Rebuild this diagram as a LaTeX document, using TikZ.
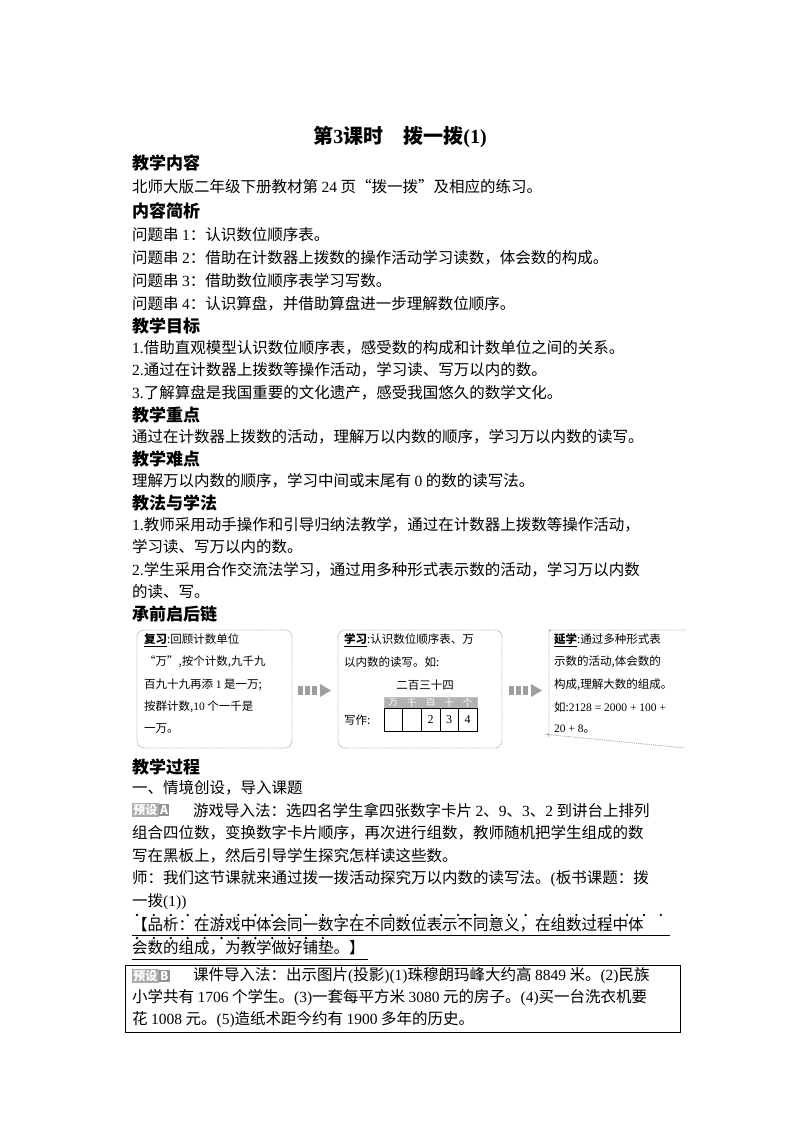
\documentclass[tikz,border=0pt]{standalone}
\usepackage{fontspec}
\setmainfont{Noto Sans CJK SC}
\newfontfamily\numf{Liberation Serif}
\begin{document}
\begin{tikzpicture}[x=1pt,y=-1pt,
 tx/.style={anchor=west,inner sep=0pt,font=\fontsize{15.5}{17}\selectfont},
 hd/.style={anchor=west,inner sep=0pt,font=\fontsize{17}{19}\selectfont\bfseries},
 bx/.style={anchor=west,inner sep=0pt,font=\fontsize{11.5}{13}\selectfont},
 chain/.style={draw=gray!70,densely dotted,line width=0.9pt,rounded corners=7pt},
 tag/.style={fill=gray!65,text=white,inner sep=1.2pt,font=\fontsize{12}{13}\selectfont\bfseries},
 tagl/.style={fill=gray!85,text=white,inner sep=1.2pt,font=\fontsize{12}{13}\selectfont\bfseries}]
\useasboundingbox (0,0) rectangle (800,1132);
\node[inner sep=0pt,font=\fontsize{20}{22}\selectfont\bfseries] (title) at (400,137) {第{\numf 3}课时\quad 拨一拨{\numf (1)}};
\node[hd] (h1) at (132,163) {教学内容};
\node[tx] (l1) at (132,187) {北师大版二年级下册教材第 {\numf 24} 页“拨一拨”及相应的练习。};
\node[hd] (h2) at (132,211) {内容简析};
\node[tx] (l2) at (132,235) {问题串 {\numf 1}：认识数位顺序表。};
\node[tx] (l3) at (132,258) {问题串 {\numf 2}：借助在计数器上拨数的操作活动学习读数，体会数的构成。};
\node[tx] (l4) at (132,281) {问题串 {\numf 3}：借助数位顺序表学习写数。};
\node[tx] (l5) at (132,304) {问题串 {\numf 4}：认识算盘，并借助算盘进一步理解数位顺序。};
\node[hd] (h3) at (132,326) {教学目标};
\node[tx] (l6) at (132,348) {{\numf 1.}借助直观模型认识数位顺序表，感受数的构成和计数单位之间的关系。};
\node[tx] (l7) at (132,370) {{\numf 2.}通过在计数器上拨数等操作活动，学习读、写万以内的数。};
\node[tx] (l8) at (132,393) {{\numf 3.}了解算盘是我国重要的文化遗产，感受我国悠久的数学文化。};
\node[hd] (h4) at (132,415) {教学重点};
\node[tx] (l9) at (132,437) {通过在计数器上拨数的活动，理解万以内数的顺序，学习万以内数的读写。};
\node[hd] (h5) at (132,459) {教学难点};
\node[tx] (l10) at (132,481) {理解万以内数的顺序，学习中间或末尾有 {\numf 0} 的数的读写法。};
\node[hd] (h6) at (132,503) {教法与学法};
\node[tx] (l11) at (132,525) {{\numf 1.}教师采用动手操作和引导归纳法教学，通过在计数器上拨数等操作活动，};
\node[tx] (l12) at (132,547) {学习读、写万以内的数。};
\node[tx] (l13) at (132,570) {{\numf 2.}学生采用合作交流法学习，通过用多种形式表示数的活动，学习万以内数};
\node[tx] (l14) at (132,592) {的读、写。};
\node[hd] (h7) at (132,614) {承前启后链};
% chain boxes
\draw[chain] (137,630) rectangle (292,748);
\draw[chain] (338,630) rectangle (502,748);
\draw[chain] (685,630) -- (556,630) arc(-90:-180:7) -- (549,741) arc(180:90:-7) -- (685,748);
\node[bx] (b1a) at (144,640) {\underline{\bfseries 复习}:回顾计数单位};
\node[bx] (b1b) at (144,662) {“万”,按个计数,九千九};
\node[bx] (b1c) at (144,685) {百九十九再添 {\numf 1} 是一万;};
\node[bx] (b1d) at (144,707) {按群计数,{\numf 10} 个一千是};
\node[bx] (b1e) at (144,729) {一万。};
\node[bx] (b2a) at (344,640) {\underline{\bfseries 学习}:认识数位顺序表、万};
\node[bx] (b2b) at (344,662) {以内数的读写。如:};
\node[bx,anchor=center] (b2c) at (425,685) {二百三十四};
\node[bx] (b2d) at (344,720) {写作:};
\foreach \i/\t in {0/万,1/千,2/百,3/十,4/个}{
  \fill[gray!60] (384+\i*18.6,697) rectangle ++(18.6,11);
  \node[text=white,inner sep=0pt,font=\fontsize{9.5}{10}\selectfont] (hd\i) at (393.3+\i*18.6,702.5) {\t};
}
\draw[gray!50] (384,697) rectangle (477,731);
\draw (384,708) rectangle (477,731);
\foreach \i in {1,...,4} \draw (384+\i*18.6,708) -- (384+\i*18.6,731);
\foreach \i/\d in {2/2,3/3,4/4} \node[inner sep=0pt,font=\fontsize{12}{13}\selectfont\numf] (d\i) at (393.3+\i*18.6,720) {\d};
\node[bx] (b3a) at (554,640) {\underline{\bfseries 延学}:通过多种形式表};
\node[bx] (b3b) at (554,662) {示数的活动,体会数的};
\node[bx] (b3c) at (554,685) {构成,理解大数的组成。};
\node[bx] (b3d) at (554,707) {如:{\numf 2128 = 2000 + 100 +}};
\node[bx] (b3e) at (554,729) {{\numf 20 + 8}。};
\foreach \x in {298,509}{
  \foreach \k in {0,1,2} \fill[gray!75] (\x+\k*7,686) rectangle ++(5,9);
  \fill[gray!75] (\x+22,684) -- (\x+33,690.5) -- (\x+22,697) -- cycle;
}
\node[hd] (h8) at (132,767) {教学过程};
\node[tx] (l15) at (132,788) {一、情境创设，导入课题};
\node[tag,anchor=west] (ta) at (132,810) {预设};
\node[tagl,anchor=west] (taa) at (ta.east) {A};
\node[tx] (l16) at (193,810) {游戏导入法：选四名学生拿四张数字卡片 {\numf 2}、{\numf 9}、{\numf 3}、{\numf 2} 到讲台上排列};
\node[tx] (l17) at (132,833) {组合四位数，变换数字卡片顺序，再次进行组数，教师随机把学生组成的数};
\node[tx] (l18) at (132,856) {写在黑板上，然后引导学生探究怎样读这些数。};
\node[tx] (l19) at (132,879) {师：我们这节课就来通过拨一拨活动探究万以内数的读写法。{\numf (}板书课题：拨};
\node[tx] (l20) at (132,902) {一拨{\numf (1))}};
\foreach \k in {0,...,31} \fill (137+\k*16.9,915) circle (1.3);
\node[tx] (l21) at (132,925) {【品析：在游戏中体会同一数字在不同数位表示不同意义，在组数过程中体};
\draw[line width=0.8pt] (132,935) -- (670,935);
\foreach \k in {0,...,11} \fill (137+\k*16.9,938) circle (1.3);
\node[tx] (l22) at (132,948) {会数的组成，为教学做好铺垫。】};
\draw[line width=0.8pt] (132,959) -- (368,959);
\draw[line width=0.9pt] (125,965) rectangle (680,1032);
\node[tag,anchor=west] (tb) at (132,976) {预设};
\node[tagl,anchor=west] (tbb) at (tb.east) {B};
\node[tx] (l23) at (193,976) {课件导入法：出示图片{\numf (}投影{\numf )(1)}珠穆朗玛峰大约高 {\numf 8849} 米。{\numf (2)}民族};
\node[tx] (l24) at (132,998) {小学共有 {\numf 1706} 个学生。{\numf (3)}一套每平方米 {\numf 3080} 元的房子。{\numf (4)}买一台洗衣机要};
\node[tx] (l25) at (132,1020) {花 {\numf 1008} 元。{\numf (5)}造纸术距今约有 {\numf 1900} 多年的历史。};
\end{tikzpicture}
\end{document}
